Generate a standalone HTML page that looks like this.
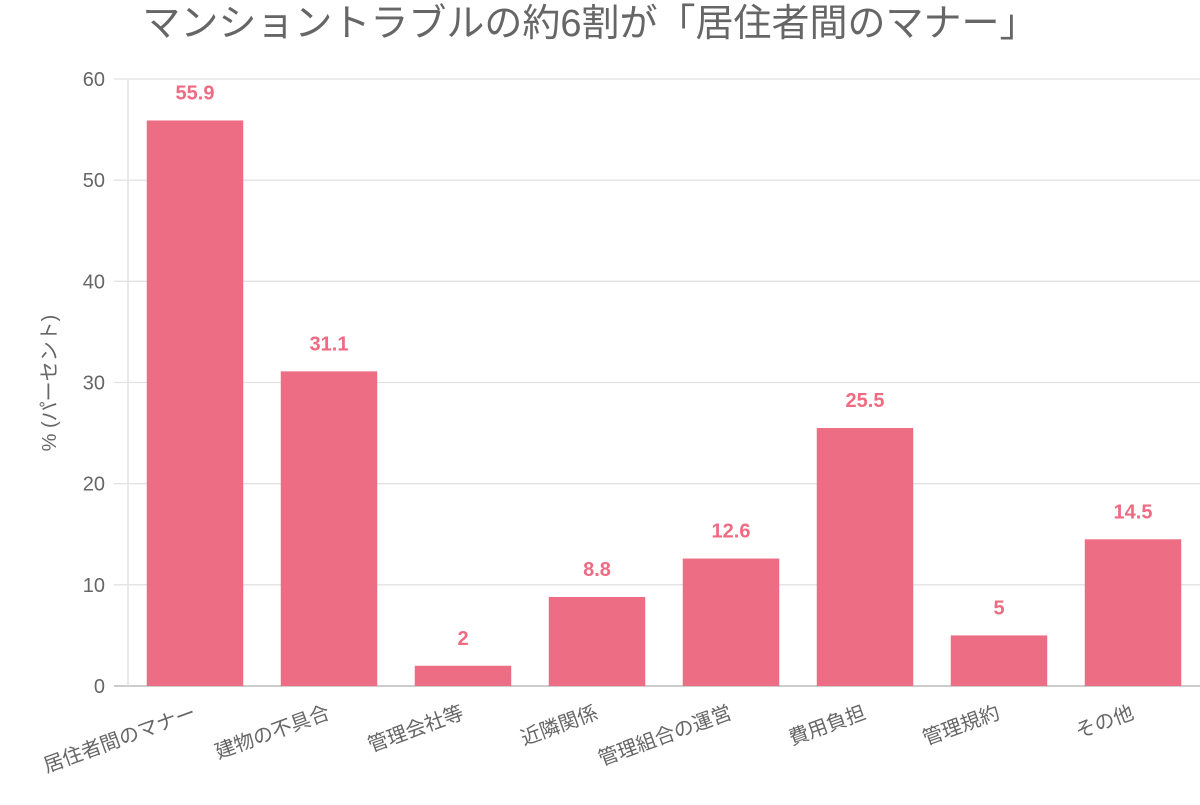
<!DOCTYPE html>
<html><head><meta charset="utf-8"><style>
body{margin:0;background:#fff;font-family:"Liberation Sans","Noto Sans CJK JP",sans-serif;}
svg text{font-family:"Liberation Sans","Noto Sans CJK JP",sans-serif;}
</style></head><body>
<svg id="chart" width="1200" height="800" xmlns="http://www.w3.org/2000/svg">
<text x="590" y="36" text-anchor="middle" font-size="38" fill="#666">マンショントラブルの約6割が「居住者間のマナー」</text>
<text transform="translate(56,383) rotate(-90)" text-anchor="middle" font-size="20" fill="#666">% (パーセント)</text>
<g id="grid"></g><g id="bars"></g><g id="labels"></g>
</svg>
<script>
const categories=["居住者間のマナー","建物の不具合","管理会社等","近隣関係","管理組合の運営","費用負担","管理規約","その他"];
const values=[55.9,31.1,2,8.8,12.6,25.5,5,14.5];
const yTicks=[0,10,20,30,40,50,60];
const NS="http://www.w3.org/2000/svg";
const x0=128,x1=1200,yBase=686,yTop=79,yMax=60;
const y=v=>yBase-(yBase-yTop)*v/yMax;
const band=(x1-x0)/categories.length;
const xc=i=>x0+band*(i+0.5);
function mk(t,a,p){const e=document.createElementNS(NS,t);for(const k in a)e.setAttribute(k,a[k]);p.appendChild(e);return e;}
const g=document.getElementById('grid'),b=document.getElementById('bars'),l=document.getElementById('labels');
yTicks.forEach(t=>{
 const ln=mk('line',{x1:114,x2:x1,y1:y(t),y2:y(t),stroke:t===0?'#ccc':'#e2e2e2','stroke-width':t===0?2:1.3},g);
 
 
 const tx=mk('text',{x:105,y:y(t)+7,'text-anchor':'end','font-size':20,fill:'#666'},g);
 tx.textContent=t;
 
 
});
const ax=mk('line',{x1:x0,x2:x0,y1:yTop,y2:yBase,stroke:'#e2e2e2','stroke-width':1.5},g);


const bw=band*0.72;
values.forEach((v,i)=>{
 const r=mk('rect',{x:xc(i)-bw/2,y:y(v),width:bw,height:yBase-y(v),fill:'#ed6d84'},b);
 
 
 const vt=mk('text',{x:xc(i),y:y(v)-21,'text-anchor':'middle','font-size':20,'font-weight':'bold',fill:'#ee6b82'},l);
 vt.textContent=v;
 
 
 const ct=mk('text',{transform:`translate(${xc(i)+2},${yBase+32}) rotate(-20)`,'text-anchor':'end','font-size':20,fill:'#666'},l);
 ct.textContent=categories[i];
 
 
});
</script>
</body></html>
